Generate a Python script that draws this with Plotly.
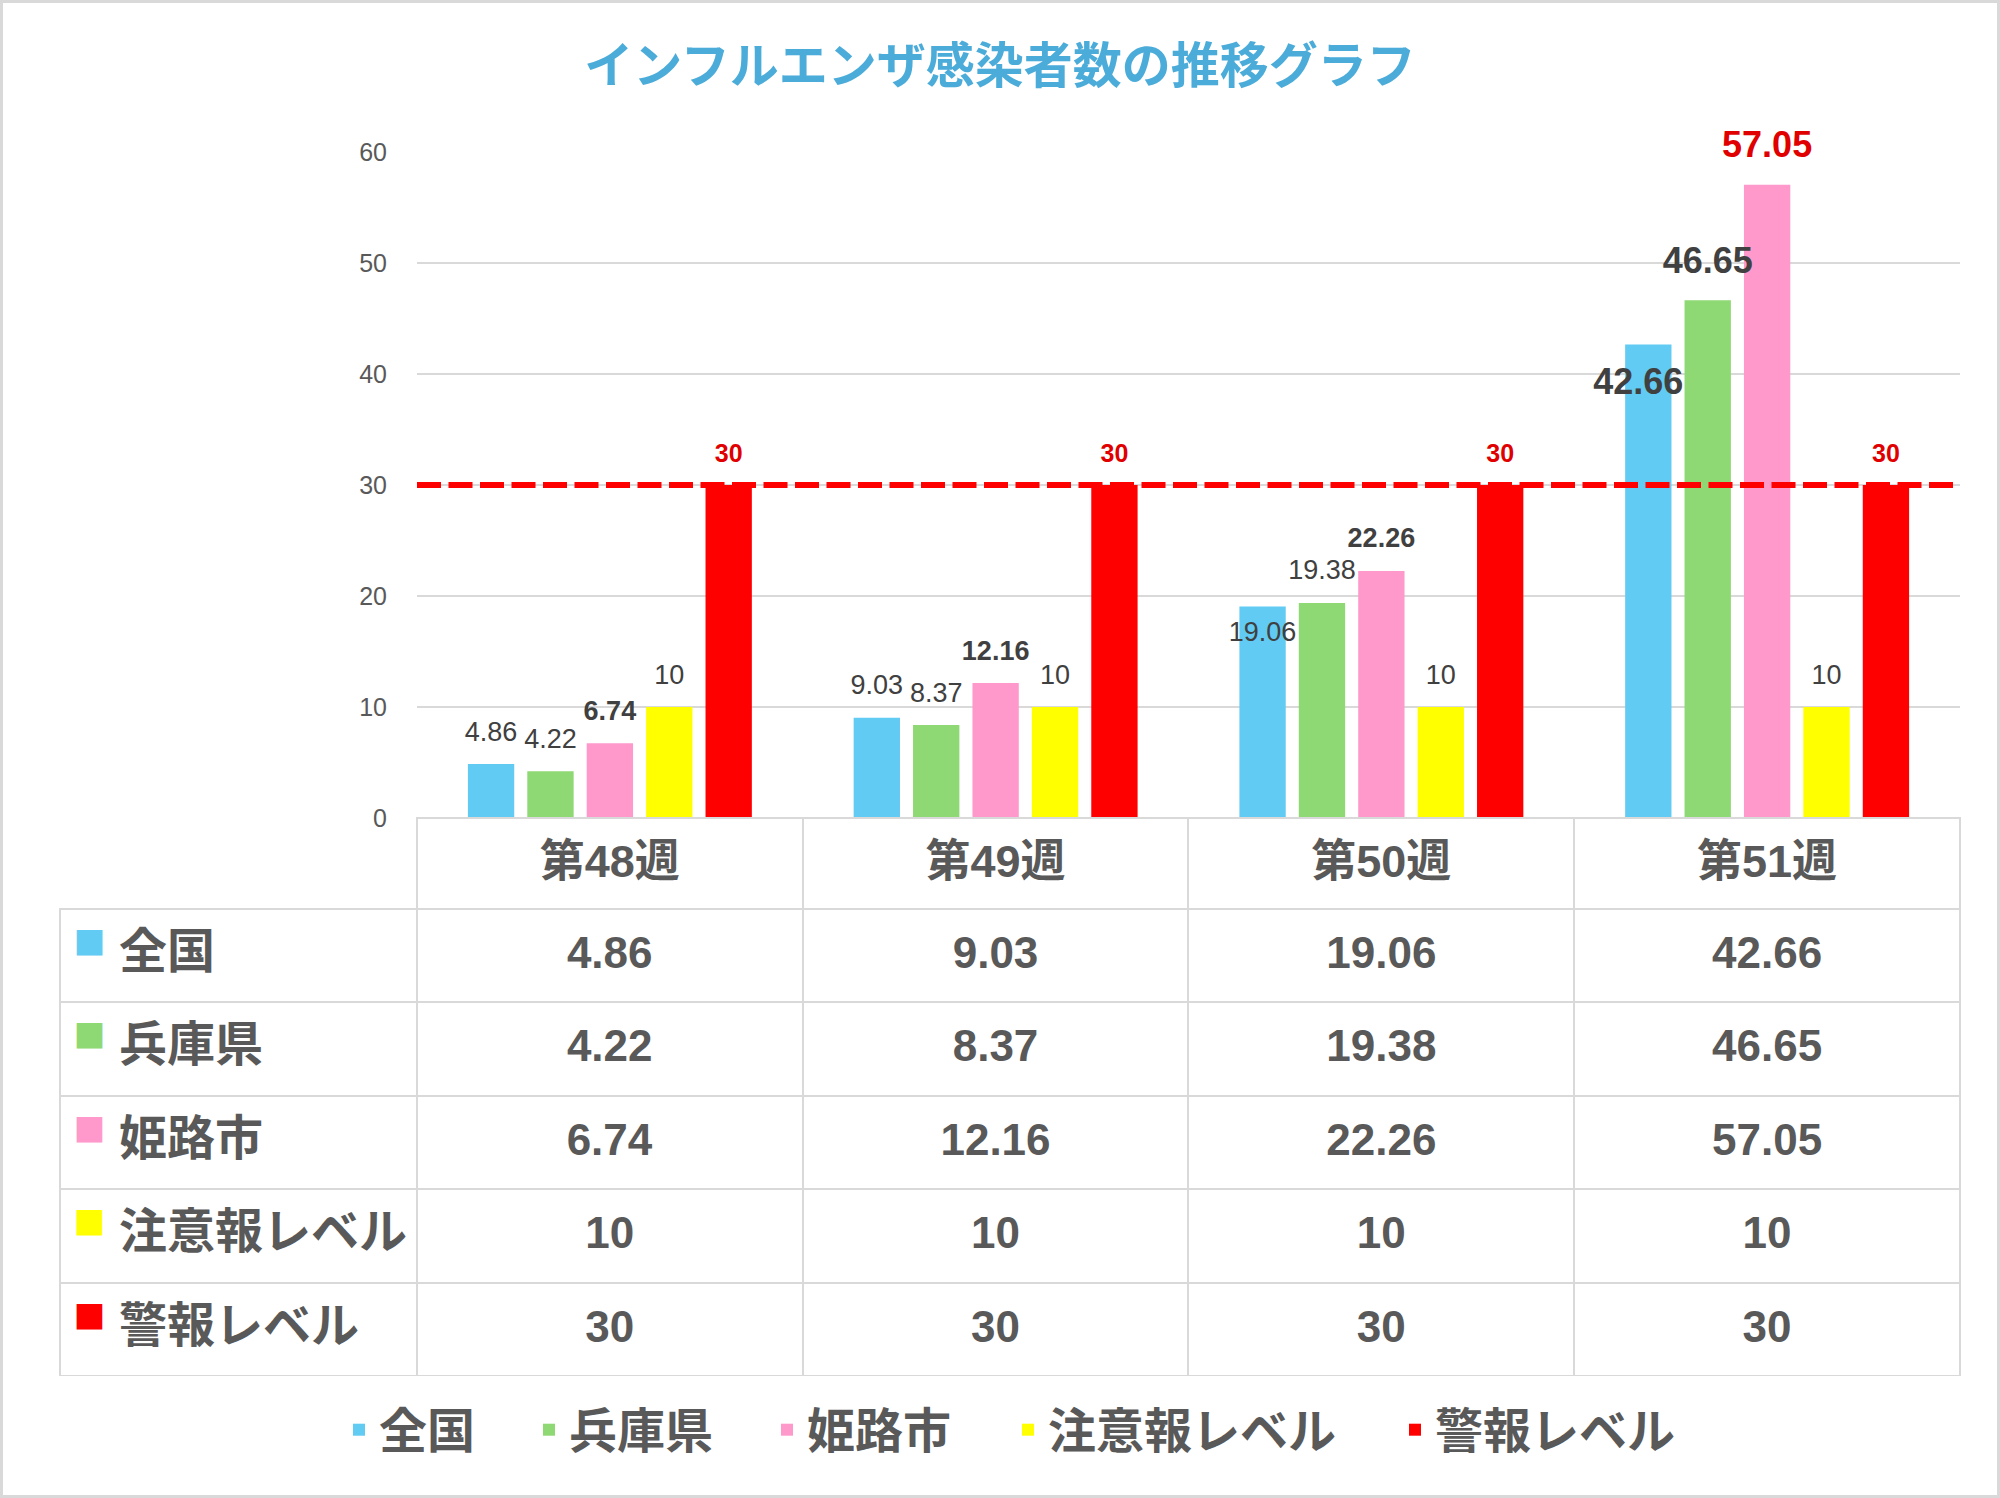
import plotly.graph_objects as go

# ---------------- data ----------------
TITLE = 'インフルエンザ感染者数の推移グラフ'
WEEKS = ['第48週', '第49週', '第50週', '第51週']
SERIES = ['全国', '兵庫県', '姫路市', '注意報レベル', '警報レベル']
ZENKOKU = [4.86, 9.03, 19.06, 42.66]
HYOGO = [4.22, 8.37, 19.38, 46.65]
HIMEJI = [6.74, 12.16, 22.26, 57.05]
CAUTION = [10, 10, 10, 10]
ALARM = [30, 30, 30, 30]
Y_TICKS = [0, 10, 20, 30, 40, 50, 60]

VALUES = [ZENKOKU, HYOGO, HIMEJI, CAUTION, ALARM]

# ---------------- styles ----------------
COLORS = ['#61CBF3', '#8ED973', '#FF99CC', '#FFFF00', '#FF0000']
NUM_FONT = 'Liberation Sans, Noto Sans CJK JP'
CJK_FONT = 'Noto Sans CJK JP, Liberation Sans'
GRID = '#D9D9D9'
TXT = '#595959'

W, H = 2000, 1498

# label presentation per point
LABEL_KIND = [
    ['n', 'n', 'n_in', 'B_in'],
    ['n', 'n', 'n', 'B'],
    ['b', 'b', 'b', 'R'],
    ['n', 'n', 'n', 'n'],
    ['r', 'r', 'r', 'r'],
]
# font px, bold, colour, spacer-line size, position, trailing pad
KIND_STYLE = {
    'n': (27, False, '#404040', 13.4, 'outside', ''),
    'b': (27, True, '#404040', 13.4, 'outside', ''),
    'B': (36, True, '#404040', 16.5, 'outside', ''),
    'R': (36, True, '#E00000', 16.5, 'outside', ''),
    'r': (25, True, '#E00000', 13.4, 'outside', ''),
    'n_in': (27, False, '#404040', 14.2, 'inside', ''),
    'B_in': (36, True, '#404040', 21.4, 'inside', '\u00a0\u00a0'),
}


def fmt(v):
    return f'{v:g}'


def label_html(v, kind):
    size, bold, color, _, pos, pad = KIND_STYLE[kind]
    s = fmt(v)
    if bold:
        s = f'<b>{s}{pad}</b>'
    else:
        s = s + pad
    s = f'<span style="font-size:{size}px;color:{color}">{s}</span>'
    return s + '<br>\u00a0' if pos == 'outside' else '\u00a0<br>' + s


fig = go.Figure()

# coloured bars
for i, (name, vals, col) in enumerate(zip(SERIES, VALUES, COLORS)):
    fig.add_trace(go.Bar(
        x=WEEKS, y=vals, name=name, offsetgroup=str(i),
        marker=dict(color=col, line=dict(width=0)),
        hoverinfo='skip', cliponaxis=False,
        legend='legend' if i == 0 else f'legend{i + 1}',
    ))

# data labels drawn on top of all bars (same bar geometry, no fill)
for i, (name, vals) in enumerate(zip(SERIES, VALUES)):
    kinds = LABEL_KIND[i]
    fig.add_trace(go.Bar(
        x=WEEKS, y=vals, name=name, offsetgroup=str(i), showlegend=False,
        marker=dict(color='rgba(0,0,0,0)', line=dict(width=0)),
        text=[label_html(v, k) for v, k in zip(vals, kinds)],
        textposition=[KIND_STYLE[k][4] for k in kinds],
        insidetextanchor='end',
        textangle=0,
        constraintext='none',
        cliponaxis=False,
        textfont=dict(family=NUM_FONT, size=[KIND_STYLE[k][3] for k in kinds], color='#404040'),
        hoverinfo='skip',
    ))

# ---------------- data table ----------------
TABLE_LINE_FONT = 23


def cell_html(text, size=44):
    return f'\u00a0<br><span style="font-size:{size}px"><b>{text}</b></span>'


row_labels = []
for name, col in zip(SERIES, COLORS):
    row_labels.append(
        '\u00a0<br>'
        + '<span style="font-size:20px">\u00a0</span>'
        + f'<span style="font-family:\'Noto Sans CJK JP\';font-size:32px;color:{col};baseline-shift:13px">■</span>'
        + f'<span style="font-size:48px"><b>\u00a0{name}</b></span>'
    )

week_cols = [[cell_html(fmt(VALUES[k][j])) for k in range(len(SERIES))] for j in range(len(WEEKS))]
header_vals = [''] + [cell_html(w, 45) for w in WEEKS]

fig.add_trace(go.Table(
    domain=dict(x=[60 / W, 1960 / W], y=[1 - 1376 / H, 1 - 818 / H]),
    columnwidth=[357, 386, 386, 386, 386],
    header=dict(
        values=header_vals, height=91, align='center',
        fill=dict(color='rgba(0,0,0,0)'),
        line=dict(color=['rgba(0,0,0,0)'] + [GRID] * 4, width=2),
        font=dict(family=NUM_FONT, size=TABLE_LINE_FONT, color=TXT),
    ),
    cells=dict(
        values=[row_labels] + week_cols, height=93.4,
        align=['left', 'center', 'center', 'center', 'center'],
        fill=dict(color='rgba(0,0,0,0)'),
        line=dict(color=GRID, width=2),
        font=dict(family=NUM_FONT, size=TABLE_LINE_FONT, color=TXT),
    ),
))

# ---------------- layout ----------------
fig.update_layout(
    width=W, height=H,
    margin=dict(l=0, r=0, t=0, b=0, autoexpand=False),
    paper_bgcolor='white', plot_bgcolor='white',
    showlegend=True,
    barmode='group', bargap=0.23, bargroupgap=0.22,
    title=dict(text=TITLE, x=0.5, xanchor='center', y=1 - 66 / H, yanchor='middle',
               font=dict(family=CJK_FONT, size=49, color='#4BACDA', weight='bold')),
    xaxis=dict(domain=[417 / W, 1960 / W], showticklabels=False, showgrid=False, automargin=False,
               zeroline=False, showline=False, ticks='', fixedrange=True),
    yaxis=dict(domain=[1 - 818 / H, 1 - 152 / H], range=[0, 60], tickvals=Y_TICKS, automargin=False,
               showgrid=True, gridcolor=GRID, gridwidth=2, zeroline=False, showline=False,
               ticks='outside', ticklen=24, tickcolor='rgba(0,0,0,0)',
               tickfont=dict(family=NUM_FONT, size=25, color=TXT), fixedrange=True),
    shapes=[
        dict(type='line', xref='x domain', x0=0, x1=1, yref='y', y0=ALARM[0], y1=ALARM[0],
             line=dict(color='#FF0000', width=6, dash='24px,7.5px'), layer='above'),
        dict(type='rect', xref='paper', yref='paper', x0=0, x1=1, y0=0, y1=1,
             line=dict(color=GRID, width=6), layer='above'),
    ],
)

# one positioned legend per series (matches the spaced-out legend row)
LEGEND_TEXT_LEFT = [379, 569, 807, 1048, 1435]
for i in range(len(SERIES)):
    key = 'legend' if i == 0 else f'legend{i + 1}'
    fig.update_layout(**{key: dict(
        x=(LEGEND_TEXT_LEFT[i] - 40) / W, y=1 - 1430 / H, xanchor='left', yanchor='middle',
        orientation='h', bgcolor='rgba(0,0,0,0)', borderwidth=0, visible=True,
        font=dict(family=CJK_FONT, size=48, color=TXT, weight='bold'),
    )})

fig.write_html(
    'out.html',
    config={'displayModeBar': False},
    post_script="document.body.style.margin='0';document.body.style.overflow='hidden';",
)
